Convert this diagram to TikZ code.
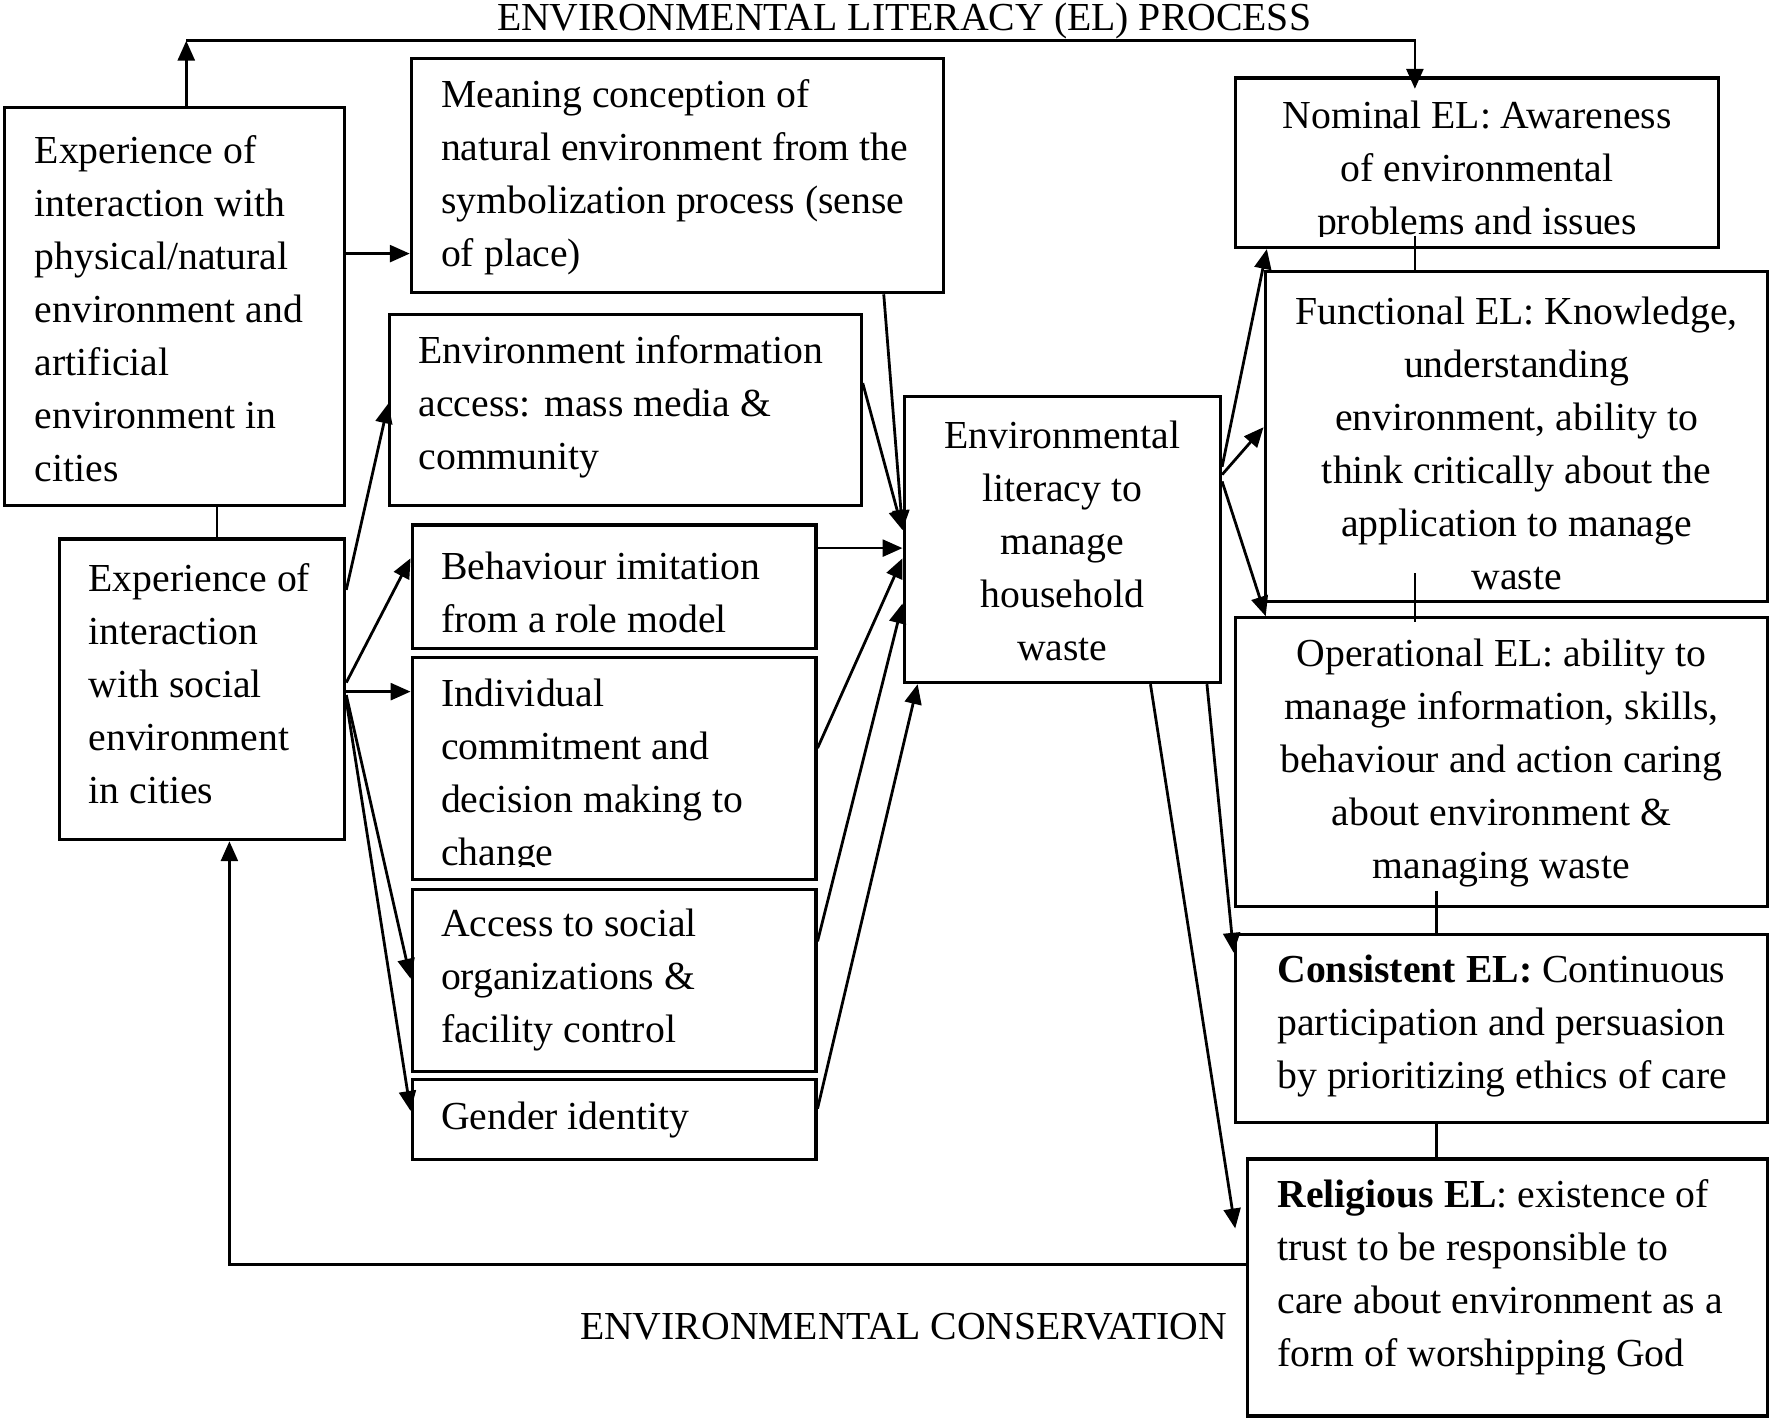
\documentclass[tikz,border=0pt]{standalone}
\usepackage{fontspec}
\setmainfont{Liberation Serif}
\usetikzlibrary{arrows.meta,calc,fit}
\begin{document}
\begin{tikzpicture}[x=0.02cm,y=-0.02cm,
  box/.style={draw,line width=1.6pt,inner sep=0pt},
  txt/.style={inner sep=0pt,font=\fontsize{20pt}{26.7pt}\selectfont},
  lt/.style={txt,align=left,anchor=west},
  ct/.style={txt,align=center,anchor=center},
  arr/.style={line width=1.4pt,-{Triangle[length=10pt,width=8.5pt]}},
  ln/.style={line width=1.4pt}]
\useasboundingbox (0,0) rectangle (1568,1258.3);

% titles
\node[txt,anchor=base] (title) at (800,27) {ENVIRONMENTAL LITERACY (EL) PROCESS};
\node[txt,anchor=base] (cons) at (799.5,1185) {ENVIRONMENTAL CONSERVATION};

% boxes
\node[box,fit={(4,95)(305,447)}] (A) {};
\node[box,fit={(52.5,477)(305,743)}] (B) {};
\node[box,fit={(364,52)(835,259)}] (M) {};
\node[box,fit={(345,278)(762,447)}] (I) {};
\node[box,fit={(364.7,464.5)(722,573.5)}] (Bh) {};
\node[box,fit={(364.7,582)(722,778)}] (Ind) {};
\node[box,fit={(364.7,787)(722,948)}] (Ac) {};
\node[box,fit={(364.7,955.5)(722,1025.7)}] (G) {};
\node[box,fit={(800,351)(1080,604)}] (C) {};
\node[box,fit={(1093,69)(1521,219)}] (N) {};
\node[box,fit={(1119.5,240)(1564,532)}] (F) {};
\node[box,fit={(1093,546.7)(1564,802)}] (O) {};
\node[box,fit={(1093,827)(1564,993)}] (Cs) {};
\node[box,fit={(1104,1025.6)(1564,1253)}] (R) {};

% texts
\node[lt] (At) at (30.5,273) {Experience of\\interaction with\\physical/natural\\environment and\\artificial\\environment in\\cities};
\node[lt] (Bt) at (78,605) {Experience of\\interaction\\with social\\environment\\in cities};
\node[lt] (Mt) at (390,157) {Meaning conception of\\natural environment from the\\symbolization process (sense\\of place)};
\node[lt] (It) at (370,360) {Environment information\\access: mass media \&\\community};
\node[lt] (Bht) at (390,524) {Behaviour imitation\\from a role model};
\begin{scope}
\clip (364,582) rectangle (722,767);
\node[lt] (Indt) at (390,687) {Individual\\commitment and\\decision making to\\change};
\end{scope}
\node[lt] (Act) at (390,867.5) {Access to social\\organizations \&\\facility control};
\node[lt] (Gt) at (390,991) {Gender identity};
\node[ct] (Ct) at (940,478.5) {Environmental\\literacy to\\manage\\household\\waste};
\begin{scope}
\clip (1093,69) rectangle (1521,209);
\node[ct] (Nt) at (1307,152) {Nominal EL: Awareness\\of environmental\\problems and issues};
\end{scope}
\node[ct] (Ft) at (1342,392.5) {Functional EL: Knowledge,\\understanding\\environment, ability to\\think critically about the\\application to manage\\waste};
\node[ct] (Ot) at (1328.5,675) {Operational EL: ability to\\manage information, skills,\\behaviour and action caring\\about environment \&\\managing waste};
\node[lt] (Cst) at (1130,908) {\textbf{Consistent EL:} Continuous\\participation and persuasion\\by prioritizing ethics of care};
\node[lt] (Rt) at (1130,1130) {\textbf{Religious EL}: existence of\\trust to be responsible to\\care about environment as a\\form of worshipping God};

% helper coordinates
\coordinate (Atop) at ($(A.north west)!0.534!(A.north east)$);
\coordinate (rtip) at (1093,1087);

% top feedback
\draw[arr] (Atop) -- (Atop |- 0,36);
\draw[arr,shorten >=-0.22cm] (Atop |- 0,36) -| (N.north -| 1252,0);

% A
\draw[arr] (A.east |- 0,224.4) -- (M.west |- 0,224.4);
\draw[ln] (A.south -| 192,0) -- (B.north -| 192,0);

% B fan
\draw[arr] (B.east |- 0,522) -- (I.west |- 0,357);
\draw[arr] (B.east |- 0,604) -- (Bh.west |- 0,494);
\draw[arr] (B.east |- 0,612) -- (Ind.west |- 0,612);
\draw[arr] (B.east |- 0,615) -- (Ac.west |- 0,866);
\draw[arr] (B.east |- 0,620) -- (G.west |- 0,983);

% into C
\draw[arr] (M.south -| 782,0) -- (C.west |- 0,469);
\draw[arr] (I.east |- 0,339) -- (C.west |- 0,469);
\draw[arr] (Bh.east |- 0,485) -- (C.west |- 0,485);
\draw[arr] (Ind.east |- 0,662) -- (C.west |- 0,494);
\draw[arr] (Ac.east |- 0,833) -- (C.west |- 0,534);
\draw[arr] (G.east |- 0,981) -- (C.south -| 812,0);

% out of C
\draw[arr] (C.east |- 0,413) -- (N.south -| 1121,0);
\draw[arr] (C.east |- 0,420) -- (F.west |- 0,378);
\draw[arr] (C.east |- 0,426) -- (O.north -| 1120,0);
\draw[arr] (C.south -| 1068,0) -- (Cs.west |- 0,843);
\draw[arr] (C.south -| 1018,0) -- (rtip);

% right column links
\draw[ln] ($(N.south -| 1252,0)+(0,-12)$) -- (F.north -| 1252,0);
\draw[ln] ($(F.south -| 1252,0)+(0,-26)$) -- ($(O.north -| 1252,0)+(0,5)$);
\draw[ln] ($(O.south -| 1271,0)+(0,-15)$) -- (Cs.north -| 1271,0);
\draw[ln] (Cs.south -| 1271,0) -- (R.north -| 1271,0);

% bottom feedback
\draw[arr] (R.west |- 0,1119) -| (B.south -| 203,0);
\end{tikzpicture}
\end{document}
